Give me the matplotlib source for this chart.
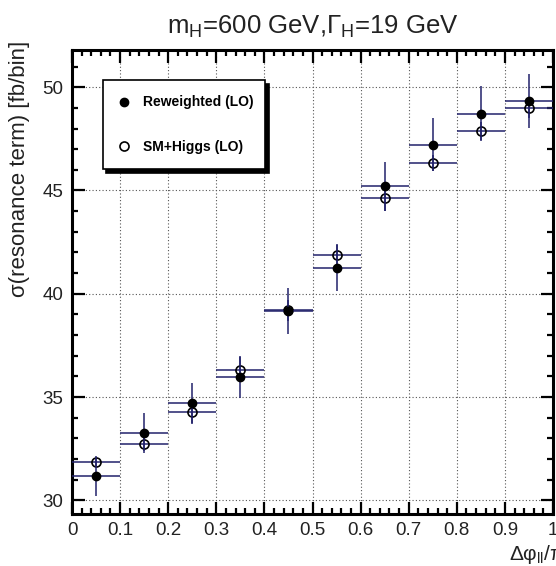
import numpy as np
import matplotlib.pyplot as plt
from matplotlib.ticker import MultipleLocator
from matplotlib.lines import Line2D

plt.rcParams['font.family'] = ['Liberation Sans', 'DejaVu Sans']
plt.rcParams['mathtext.fontset'] = 'custom'
plt.rcParams['mathtext.rm'] = 'Liberation Sans'
plt.rcParams['mathtext.it'] = 'Liberation Sans:italic'

# bins in delta phi / pi
bin_centres = [0.05, 0.15, 0.25, 0.35, 0.45, 0.55, 0.65, 0.75, 0.85, 0.95]
bin_halfwidth = 0.05

# reweighted (LO) distribution
rew = [31.19, 33.24, 34.70, 35.97, 39.17, 41.27, 45.20, 47.22, 48.72, 49.32]
rew_err = [0.97, 0.97, 0.98, 1.00, 1.10, 1.13, 1.19, 1.29, 1.34, 1.31]

# SM+Higgs (LO) distribution
smh = [31.85, 32.74, 34.30, 36.33, 39.20, 41.88, 44.63, 46.34, 47.87, 48.97]
smh_err = [0.20, 0.33, 0.55, 0.60, 0.50, 0.48, 0.60, 0.40, 0.45, 0.45]

err_col = '#22226b'
txt_col = '#222222'

fig = plt.figure(figsize=(5.56, 5.66), dpi=100)
ax = fig.add_axes([72/556, 1 - 514/566, 481/556, 464/566])

ax.errorbar(bin_centres, smh, xerr=bin_halfwidth, yerr=smh_err, fmt='o',
            mfc='none', mec='black', mew=1.2, ms=6.5, ecolor=err_col,
            elinewidth=1.1, capsize=0, zorder=3)
ax.errorbar(bin_centres, rew, xerr=bin_halfwidth, yerr=rew_err, fmt='o',
            mfc='black', mec='black', ms=6, ecolor=err_col,
            elinewidth=1.1, capsize=0, zorder=4)

ax.set_xlim(0, 1)
ax.set_ylim(29.34, 51.8)

ax.xaxis.set_minor_locator(MultipleLocator(0.02))
ax.yaxis.set_major_locator(MultipleLocator(5))
ax.yaxis.set_minor_locator(MultipleLocator(1))
ax.set_xticks(np.arange(0, 1.01, 0.1))
ax.set_xticklabels(['0', '0.1', '0.2', '0.3', '0.4', '0.5', '0.6', '0.7', '0.8', '0.9', '1'])
ax.tick_params(which='both', direction='in', top=True, right=True, width=1.6)
ax.tick_params(which='major', length=9, labelsize=13.5, pad=6, labelcolor=txt_col)
ax.tick_params(which='minor', length=4.5)
for s in ax.spines.values():
    s.set_linewidth(2.2)

ax.grid(True, which='major', color='#555555', linestyle=(0, (1, 2)), linewidth=0.8)
ax.set_axisbelow(True)

ax.set_title(r'm$_{\rm H}$=600 GeV,$\Gamma_{\rm H}$=19 GeV', fontsize=18.5, pad=12,
             color=txt_col)
ax.set_ylabel('σ(resonance term) [fb/bin]', fontsize=16, loc='top', color=txt_col)
ax.yaxis.set_label_coords(-0.088, 1.02)
ax.set_xlabel(r'Δφ$_{\rm ll}$/π', fontsize=15, loc='right', color=txt_col)
ax.xaxis.set_label_coords(1.025, -0.062)

handles = [
    Line2D([], [], ls='none', marker='o', mfc='black', mec='black', ms=6),
    Line2D([], [], ls='none', marker='o', mfc='none', mec='black', mew=1.2, ms=6.5),
]
leg = ax.legend(handles, ['Reweighted (LO)', 'SM+Higgs (LO)'],
                loc='upper left', bbox_to_anchor=(0.0645, 0.752, 0.337, 0.183),
                mode='expand', prop={'weight': 'bold', 'size': 10},
                frameon=True, fancybox=False, edgecolor='black',
                borderpad=1.1, labelspacing=2.2, handlelength=0.8,
                handletextpad=1.0, borderaxespad=0,
                shadow={'color': 'black', 'alpha': 1, 'ox': 2.5, 'oy': -2.5})
leg.get_frame().set_linewidth(1.2)
leg.set_zorder(10)

fig.savefig('out.png', dpi=100)
